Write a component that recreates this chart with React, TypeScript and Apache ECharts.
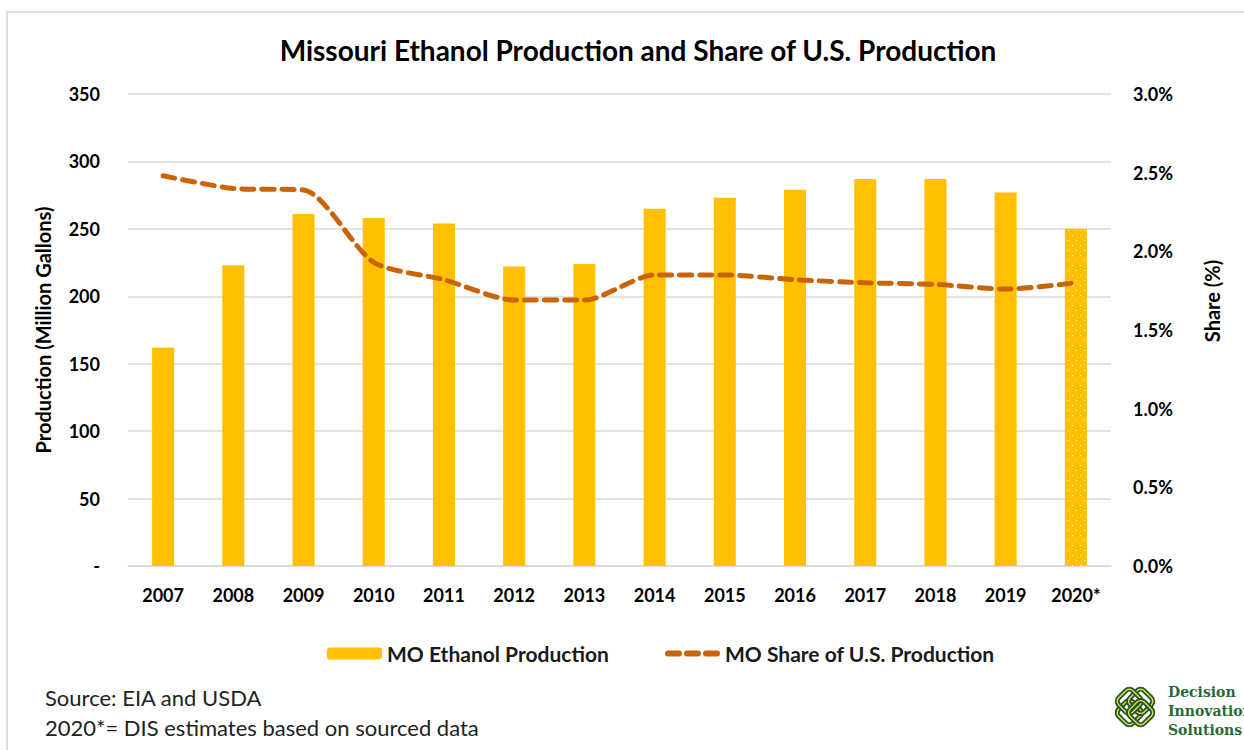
import React, { useEffect, useRef } from "react";
import * as echarts from "echarts";

const years = ["2007", "2008", "2009", "2010", "2011", "2012", "2013", "2014", "2015", "2016", "2017", "2018", "2019", "2020*"];
const production = [162, 223, 261, 258, 254, 222, 224, 265, 273, 279, 287, 287, 277, 250];
const share = [2.48, 2.4, 2.39, 1.93, 1.82, 1.69, 1.69, 1.85, 1.85, 1.82, 1.8, 1.79, 1.76, 1.8];
const estimatedYear = "2020*";

const FONT = "Lato, 'Open Sans', sans-serif";

export default function App() {
  const ref = useRef<HTMLDivElement>(null);
  useEffect(() => {
    if (!ref.current) return;
    const chart = echarts.init(ref.current, null, { renderer: "svg" });
    const barData = production.map((v, i) =>
      years[i] === estimatedYear
        ? {
            value: v,
            itemStyle: {
              color: "#FFC000",
              decal: {
                symbol: "rect",
                symbolSize: 1,
                color: "rgba(255,255,255,0.95)",
                dashArrayX: [[1, 7], [0, 4, 1, 3]],
                dashArrayY: [1, 4],
              },
            },
          }
        : v
    );
    const knotStroke = (x: number, y: number, w: number, h: number) => [
      {
        type: "rect",
        shape: { x: x, y: y, width: w, height: h, r: 5 },
        style: { fill: "none", stroke: "#1d5a2a", lineWidth: 5 },
      },
      {
        type: "rect",
        shape: { x: x, y: y, width: w, height: h, r: 5 },
        style: { fill: "none", stroke: "#f3d54e", lineWidth: 1.4 },
      },
    ];
    const legendText = { fontFamily: FONT, fontSize: 21, fontWeight: "bold", color: "#1a1a1a" };
    chart.setOption({
      animation: false,
      backgroundColor: "#ffffff",
      textStyle: { fontFamily: FONT },
      grid: { left: 128, right: 133, top: 94, bottom: 184, containLabel: false },
      legend: [
        {
          data: ["MO Ethanol Production"],
          left: 322,
          top: 638,
          itemWidth: 55,
          itemHeight: 12,
          itemGap: 6,
          textStyle: legendText,
        },
        {
          data: ["MO Share of U.S. Production"],
          left: 660,
          top: 638,
          itemWidth: 52,
          itemHeight: 12,
          itemStyle: { opacity: 0 },
          lineStyle: { width: 6, type: [11, 8], cap: "round", color: "#C96508" },
          textStyle: legendText,
        },
      ],
      xAxis: {
        type: "category",
        data: years,
        boundaryGap: true,
        axisTick: { show: false },
        axisLine: { show: true, lineStyle: { color: "#d9d9d9", width: 1.5 } },
        axisLabel: { color: "#000", fontSize: 18, fontWeight: "bold", margin: 20, fontFamily: FONT },
      },
      yAxis: [
        {
          type: "value",
          min: 0,
          max: 350,
          interval: 50,
          name: "Production (Million Gallons)",
          nameLocation: "middle",
          nameGap: 75,
          nameTextStyle: { color: "#000", fontSize: 20, fontWeight: "bold", fontFamily: FONT },
          axisLine: { show: false },
          axisTick: { show: false },
          splitLine: { lineStyle: { color: "#d9d9d9", width: 1.5 } },
          axisLabel: {
            color: "#000",
            fontSize: 18,
            fontWeight: "bold",
            margin: 28,
            fontFamily: FONT,
            formatter: (v: number) => (v === 0 ? "-" : String(v)),
          },
        },
        {
          type: "value",
          min: 0,
          max: 3,
          interval: 0.5,
          position: "right",
          axisLine: { show: false },
          axisTick: { show: false },
          splitLine: { show: false },
          axisLabel: {
            color: "#000",
            fontSize: 18,
            fontWeight: "bold",
            margin: 22,
            fontFamily: FONT,
            formatter: (v: number) => v.toFixed(1) + "%",
          },
        },
      ],
      series: [
        {
          name: "MO Ethanol Production",
          type: "bar",
          data: barData,
          barWidth: 22,
          itemStyle: { color: "#FFC000" },
          yAxisIndex: 0,
        },
        {
          name: "MO Share of U.S. Production",
          type: "line",
          data: share,
          yAxisIndex: 1,
          smooth: 0.25,
          symbol: "none",
          itemStyle: { color: "#C96508" },
          lineStyle: { color: "#C96508", width: 5, type: [12, 8], cap: "round" },
          z: 5,
        },
      ],
      graphic: [
        {
          type: "rect",
          shape: { x: 7, y: 12, width: 1260, height: 760 },
          style: { fill: "none", stroke: "#d4d4d4", lineWidth: 1.5 },
          silent: true,
        },
        {
          type: "text",
          x: 638,
          y: 50,
          style: {
            text: "Missouri Ethanol Production and Share of U.S. Production",
            fontFamily: FONT,
            fontSize: 28,
            fontWeight: "bold",
            fill: "#000",
            align: "center",
            verticalAlign: "middle",
          },
        },
        {
          type: "text",
          x: 1212,
          y: 301,
          rotation: Math.PI / 2,
          style: {
            text: "Share (%)",
            fontFamily: FONT,
            fontSize: 20,
            fontWeight: "bold",
            fill: "#000",
            align: "center",
            verticalAlign: "middle",
          },
        },
        {
          type: "text",
          x: 45,
          y: 697,
          style: {
            text: "Source: EIA and USDA",
            fontFamily: FONT,
            fontSize: 22,
            fill: "#222",
            verticalAlign: "middle",
          },
        },
        {
          type: "text",
          x: 45,
          y: 727,
          style: {
            text: "2020*= DIS estimates based on sourced data",
            fontFamily: FONT,
            fontSize: 22,
            fill: "#222",
            verticalAlign: "middle",
          },
        },
        {
          type: "group",
          x: 1135,
          y: 707,
          rotation: Math.PI / 4,
          children: [
            ...knotStroke(-18, -10, 20, 20),
            ...knotStroke(-2, -10, 20, 20),
            ...knotStroke(-10, -18, 20, 20),
            ...knotStroke(-10, -2, 20, 20),
          ],
        },
        {
          type: "text",
          x: 1168,
          y: 692,
          style: { text: "Decision", fontFamily: "'DejaVu Serif', serif", fontSize: 14, fontWeight: "bold", fill: "#2a6b35", verticalAlign: "middle" },
        },
        {
          type: "text",
          x: 1168,
          y: 711,
          style: { text: "Innovation", fontFamily: "'DejaVu Serif', serif", fontSize: 14, fontWeight: "bold", fill: "#2a6b35", verticalAlign: "middle" },
        },
        {
          type: "text",
          x: 1168,
          y: 730,
          style: { text: "Solutions", fontFamily: "'DejaVu Serif', serif", fontSize: 14, fontWeight: "bold", fill: "#2a6b35", verticalAlign: "middle" },
        },
      ],
    });
    return () => chart.dispose();
  }, []);
  return (
    <div
      ref={ref}
      style={{ position: "fixed", left: 0, top: 0, width: 1244, height: 750, background: "#fff" }}
    />
  );
}
